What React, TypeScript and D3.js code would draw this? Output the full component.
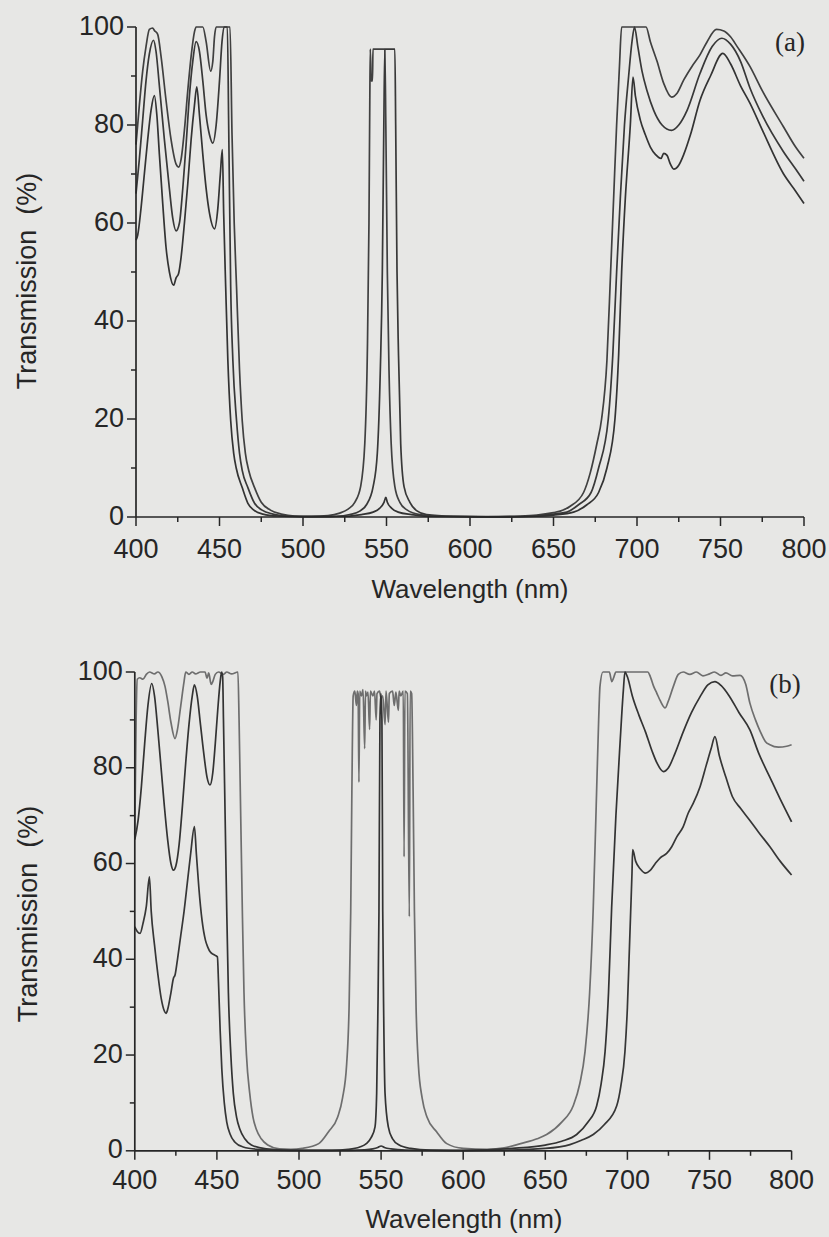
import React from 'react';
import * as d3 from 'd3';

type Pt = [number, number];

const xTicksMajor = [400, 450, 500, 550, 600, 650, 700, 750, 800];
const xTicksMinor = [425, 475, 525, 575, 625, 675, 725, 775];
const yTicksMajor = [0, 20, 40, 60, 80, 100];
const yTicksMinor = [10, 30, 50, 70, 90];

const xTitle = 'Wavelength (nm)';
const yTitle = 'Transmission  (%)';

// Panel (a)
const curveA1: Pt[] = [[400,76],[402,84],[404,91],[406,96],[408,99.5],[410,99.8],[411,99.3],[413,98.5],[415,94],[418,85],[421,77],[424,72],[425.5,71.4],[427,73],[429,79],[431,87],[433,94],[435,99],[436,100],[440,100],[442,97],[444.7,91],[446,93],[447,98],[448,100],[456.3,100],[457.5,78],[458.8,60],[460.2,47],[462,30],[463.6,19.7],[465.5,13],[467.5,9.5],[471,6],[475,3],[480.5,1.4],[487,0.6],[495,0.2],[505,0.15],[515,0.3],[522,0.8],[527,1.6],[531,3],[534.5,6.2],[537,15],[538.5,33],[539.5,60],[540,85],[540.3,95.5],[540.8,89],[541.6,89],[541.9,95.5],[549,95.5],[549.6,80],[550.5,50],[551.5,30],[552.8,15],[555,6.2],[558,3],[562,1.5],[570,0.5],[585,0.15],[610,0.08],[630,0.2],[640,0.4],[650,0.9],[654,1.2],[660,2.2],[668,5],[672,9],[676,15],[678.8,20],[682,32],[684.2,50],[686,65],[687.8,80],[689.5,92],[690.8,100],[705.4,100],[708,97],[712,93],[716,88.5],[720.7,85.7],[724,86.5],[728,89.2],[733,92],[737.7,94.3],[742,97],[747.6,99.5],[752,99.2],[756,98],[760,96],[767.7,91.9],[775,87],[787.6,79.7],[795,75.5],[800,73.2]];
const curveA2: Pt[] = [[400,66],[402,73],[404,81],[406,89],[408,94.5],[410.5,97.3],[412,95],[414,88],[417,77],[420,67],[422,61],[424,58.4],[426,60],[428,67],[430,76],[432,86],[434,93],[436,97],[438,95],[440,89],[442,82],[444,78],[446,76.3],[448,80],[450,89],[451.5,97],[452.7,100],[454.7,100],[455.5,80],[456.7,47],[458,32],[460.2,19.7],[462,13],[463.6,9.5],[467,6],[471,2.8],[475.5,1.4],[482,0.6],[490,0.2],[505,0.08],[520,0.15],[528,0.5],[534,1.2],[538,2.5],[542,6.2],[544.5,13],[546.3,30],[547.5,50],[548.4,80],[549,95.5],[555,95.5],[555.5,80],[556.3,50],[557.2,33],[558.5,15],[560.5,6.2],[564,3],[568,1.3],[574,0.5],[590,0.15],[610,0.05],[630,0.1],[640,0.25],[650,0.6],[658,1],[665,2.5],[672.5,5],[677,10],[682.8,20],[685.5,33],[687.8,50],[690,65],[692.5,80],[695,90],[697,97],[698.5,100],[700.5,96],[703,91],[706,87],[710,83],[715,80],[720.7,78.9],[725,80],[730,83],[737.7,90.5],[745,96],[750.8,97.7],[756,96.5],[762,93],[767.7,87.5],[775,82],[787.6,74.6],[795,71],[800,68.5]];
const curveA3: Pt[] = [[400,56.5],[401,57.5],[403,63],[405,70],[407,77],[409,83],[411,86],[412.5,82],[414,74],[416,64],[418,55],[420,50],[422.5,47.3],[424,48.8],[425.5,49.7],[427,53],[429,60],[431,68],[433,77],[435,84],[436.4,87.8],[438,82],[440,74],[442,67],[444,62],[447,58.8],[449,63],[450.5,70],[451.7,75],[452.5,62],[453.7,47],[455,32],[456.7,19.7],[458.5,13],[460,10],[463.6,6],[467,2.8],[470.6,1.4],[476,0.6],[485,0.2],[500,0.06],[520,0.1],[535,0.5],[542,1],[546,1.8],[548.5,3],[549.6,4],[550.5,3],[553,1.8],[557,1],[565,0.5],[580,0.1],[620,0.03],[640,0.15],[650,0.4],[662,1],[670,2.5],[677,5],[682,10],[686.8,20],[689,33],[690.8,50],[693,65],[696,80],[697.6,89.8],[699,86],[702,81],[705,78],[708,75.5],[711,74],[714.4,73.2],[716,74.2],[718,73.8],[720,72],[722,71],[725,71.8],[728,74],[732,78],[737.7,85],[744,90],[751.4,94.6],[756,92.5],[762,88],[767.7,84.4],[775,79],[787.6,70.1],[795,66.5],[800,64]];

// Panel (b)
const curveB1: Pt[] = [[400,66],[400.8,90],[401.5,98.5],[403,98.8],[405,98.5],[407,99.5],[409,100],[412,99.6],[414,100],[416.5,99],[418.4,97],[420,94],[422,89.5],[424.5,86.1],[426,88],[428,93],[430,98],[431,100],[433,99.5],[435,100],[437,99.6],[440,100],[442.8,100],[444,98.7],[445,99.8],[446.5,97.4],[447.5,98],[449,99.5],[451,100],[454,99.5],[456,100],[459,99.6],[462.8,100],[463.5,90],[464.5,70],[465.5,50],[466.5,33],[468,20],[470,12],[472,7],[474,4.5],[477,2.5],[481,1.2],[488,0.4],[495,0.3],[502,0.5],[512,1.5],[518,4],[523.5,7],[526.5,11],[529,18],[530.5,30],[531.5,50],[532.2,75],[533,95],[534,96],[535,93],[535.5,96],[536,95.5],[536.5,77],[537,96],[538,95],[539,96.3],[540,84],[540.5,96],[541,95],[542,95.8],[543,88],[543.5,96],[545,95],[546,96],[547,90],[547.5,95.5],[549,96],[550,94.5],[551,95],[552.4,89],[553,96],[554.5,89.5],[555,95.5],[557,96],[558,93],[559,95.8],[560.5,92],[561,96],[562,95],[563.5,96],[564,61.4],[564.5,96],[566,95.5],[567.2,48.9],[567.7,96],[568.6,95.5],[569.5,75],[570.3,50],[571.3,30],[572.7,18],[575,11],[578,7],[583.8,4],[590,1.5],[600,0.5],[615,0.3],[625,0.6],[635,1.5],[645,2.5],[650.8,3.4],[660,6],[667,9.4],[671,14],[674.2,20.7],[677,33],[679.2,50.7],[681,72],[682.5,90],[683.3,97],[685.1,100],[689,100],[690.5,98],[691.5,98.7],[693,100],[712.4,100],[714,99],[716,97],[718,95.5],[720,94],[723,92.5],[725,94],[728,97],[731,99.5],[734,100],[738,99.5],[742,100],[746,99.2],[750,99.6],[753,100],[757,99.3],[760,99.8],[764,99.2],[768.6,99.3],[772,97.5],[774.6,93.5],[778,90],[781,87.5],[784,85.5],[786.8,84.8],[792,84.3],[797,84.5],[800,84.8]];
const curveB2: Pt[] = [[400,65],[402,69],[404,76],[406,85],[408,93],[410.3,97.6],[412,95],[414,88],[416,80],[418,72],[420,65],[422,60],[423.5,58.6],[425,59.5],[427,64],[429,72],[431,81],[433,89],[435,95],[436.3,97.3],[438,95],[440,89],[442,83],[444,78],[445.8,76.4],[447.5,79],[449,85],[450.5,92],[452,98],[452.9,100],[453.5,99],[454,90],[455,70],[456,50],[457,33],[458.5,20],[460,12],[462,7],[464,4.5],[467,2.5],[471,1.2],[480,0.4],[495,0.1],[520,0.1],[530,0.3],[537,0.8],[541,1.5],[544,2.8],[546.3,5],[547.3,12],[548,28],[548.7,50],[549.3,90],[549.9,95.5],[550.5,90],[551,50],[551.6,28],[552.4,12],[554.4,5],[557,2.5],[561,1.2],[568,0.5],[580,0.15],[600,0.1],[630,0.5],[650,1.2],[660,2],[669.1,3.4],[676,6],[681.3,9.4],[684,14],[686.4,20.7],[688.5,33],[690.4,50.7],[693,70],[695.5,85],[697.5,96],[698.5,100],[700,99],[703,95],[707,91],[711,87.5],[715,83.5],[718,81],[721.9,79.2],[725,80],[729,83],[734,87.5],[739,91.5],[744.2,94.8],[749,97.3],[753.3,98],[757,97.2],[762,95],[768,91.5],[774.6,87.9],[780,83],[786.8,78],[793,73.5],[800,68.7]];
const curveB3: Pt[] = [[400,46.8],[401.5,45.8],[403.2,45.4],[405,47.5],[407,51],[408.9,57.2],[410,50],[412,43],[414,37],[416,32],[418,29.2],[419,28.7],[420,29.5],[422,33],[423.5,36],[424.5,36.7],[426,40],[428,45],[430,50],[432,56],[434,62],[436.3,67.7],[437.5,62],[439,55],[441,48],[443,44],[444.5,42.5],[446,41.5],[448,41],[450.3,40.5],[451,35],[452,25],[453,17],[454.5,10],[456,6],[458,3.5],[461,1.8],[466,0.8],[475,0.3],[490,0.1],[530,0.1],[540,0.2],[545,0.4],[548,0.7],[550,1],[552,0.7],[556,0.4],[565,0.15],[600,0.05],[620,0.1],[650,0.5],[665,1.3],[672,2.2],[679.2,3.4],[686,5.5],[693.5,9.4],[696,13.5],[698.5,20.7],[700,30],[701,40],[702,50],[702.8,58],[703.2,62.9],[705,60.5],[708,58.8],[711,58],[713.7,58.5],[717,60],[720,61.2],[723.9,62.1],[727,63.5],[730,65.5],[734,67.7],[737,70.5],[740,72.5],[744.2,76],[748,80.5],[751,84],[753.3,86.5],[756,82.5],[760,78],[763.9,74],[769,71.5],[774.6,69],[780,66.5],[786.8,63.5],[793,60.5],[800,57.6]];

const FONT = '"Liberation Sans", Arial, Helvetica, sans-serif';
const INK = '#262626';

type PanelProps = {
  curves: Pt[][];
  colors: string[];
  x0: number; x1: number; yBottom: number; yTop: number;
  tickLabelBaseline: number; titleBaseline: number; titleX: number;
  yTitleX: number; yTitleY: number;
  label: string; labelX: number; labelY: number;
};

function Panel(p: PanelProps) {
  const x = d3.scaleLinear().domain([400, 800]).range([p.x0, p.x1]);
  const y = d3.scaleLinear().domain([0, 100]).range([p.yBottom, p.yTop]);
  const line = d3.line<Pt>().x(d => x(d[0])).y(d => y(d[1])).curve(d3.curveMonotoneX);
  return (
    <g>
      {p.curves.map((c, i) => (
        <path key={i} d={line(c) || ''} fill="none" stroke={p.colors[i]} strokeWidth={1.7} strokeLinejoin="round" />
      ))}
      <line x1={x(400)} x2={x(800)} y1={y(0)} y2={y(0)} stroke={INK} strokeWidth={1.7} />
      <line x1={x(400)} x2={x(400)} y1={y(0)} y2={y(100)} stroke={INK} strokeWidth={1.7} />
      {xTicksMajor.map(t => (
        <g key={'xm' + t}>
          <line x1={x(t)} x2={x(t)} y1={y(0)} y2={y(0) + 9} stroke={INK} strokeWidth={1.5} />
          <text x={x(t)} y={p.tickLabelBaseline} textAnchor="middle" fontSize={27} fill={INK} fontFamily={FONT}>{t}</text>
        </g>
      ))}
      {xTicksMinor.map(t => (
        <line key={'xn' + t} x1={x(t)} x2={x(t)} y1={y(0)} y2={y(0) + 5} stroke={INK} strokeWidth={1.5} />
      ))}
      {yTicksMajor.map(t => (
        <g key={'ym' + t}>
          <line x1={x(400) - 9} x2={x(400)} y1={y(t)} y2={y(t)} stroke={INK} strokeWidth={1.5} />
          <text x={x(400) - 12} y={y(t)} dy="0.28em" textAnchor="end" fontSize={27} fill={INK} fontFamily={FONT}>{t}</text>
        </g>
      ))}
      {yTicksMinor.map(t => (
        <line key={'yn' + t} x1={x(400) - 5} x2={x(400)} y1={y(t)} y2={y(t)} stroke={INK} strokeWidth={1.5} />
      ))}
      <text x={p.titleX} y={p.titleBaseline} textAnchor="middle" fontSize={26} fill={INK} fontFamily={FONT}>{xTitle}</text>
      <text transform={`translate(${p.yTitleX},${p.yTitleY}) rotate(-90)`} textAnchor="middle" fontSize={27} fill={INK} fontFamily={FONT} style={{ whiteSpace: 'pre' }}>{yTitle}</text>
      <text x={p.labelX} y={p.labelY} dy="0.35em" textAnchor="middle" fontSize={27} fill={INK} fontFamily='"Liberation Serif", "Times New Roman", serif'>{p.label}</text>
    </g>
  );
}

export default function App() {
  return (
    <svg width={829} height={1237} viewBox="0 0 829 1237" style={{ position: 'absolute', left: 0, top: 0, background: '#e7e7e5' }}>
      <rect x={0} y={0} width={829} height={1237} fill="#e7e7e5" />
      <Panel curves={[curveA1, curveA2, curveA3]} colors={['#404040', '#383838', '#333333']}
        x0={136} x1={804} yBottom={517} yTop={27}
        tickLabelBaseline={558} titleBaseline={598} titleX={470}
        yTitleX={36} yTitleY={281} label="(a)" labelX={790} labelY={42} />
      <Panel curves={[curveB1, curveB2, curveB3]} colors={['#6e6e6e', '#333333', '#363636']}
        x0={134.8} x1={791.6} yBottom={1150.8} yTop={672}
        tickLabelBaseline={1189} titleBaseline={1228} titleX={464}
        yTitleX={37} yTitleY={914} label="(b)" labelX={785} labelY={684} />
    </svg>
  );
}
